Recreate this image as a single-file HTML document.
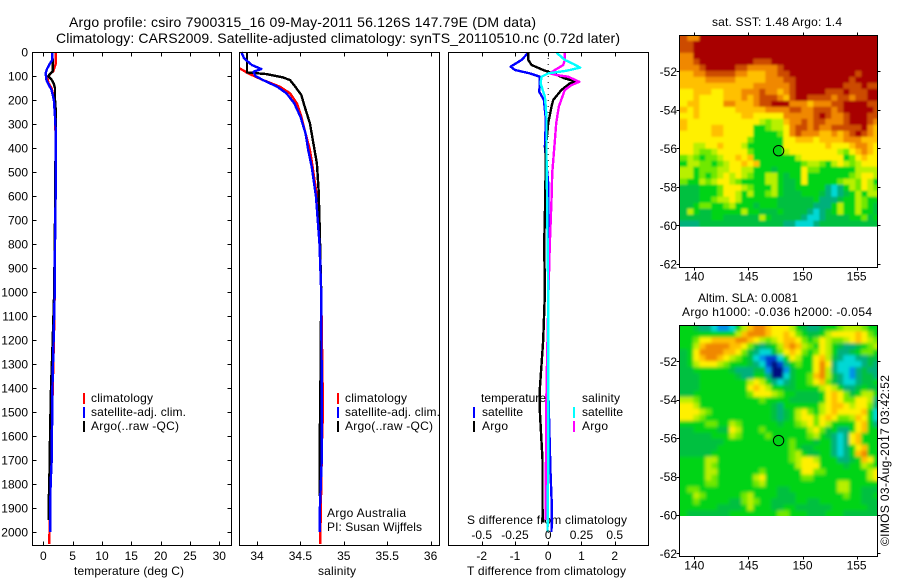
<!DOCTYPE html>
<html>
<head>
<meta charset="utf-8">
<title>Argo profile csiro 7900315_16</title>
<style>
html,body{margin:0;padding:0;background:#fff;}
svg{display:block;}
text{font-family:"Liberation Sans",sans-serif;font-size:12px;fill:#000;}
.t14{font-size:14px;}
</style>
</head>
<body>
<svg id="chart" width="900" height="580" viewBox="0 0 900 580" xmlns="http://www.w3.org/2000/svg">
<defs>
<filter id="soft-sst" x="-5%" y="-5%" width="110%" height="110%"><feGaussianBlur stdDeviation="1.1"/></filter>
<filter id="soft-sla" x="-5%" y="-5%" width="110%" height="110%"><feGaussianBlur stdDeviation="1.5"/></filter>
<clipPath id="clip-sst"><rect x="680" y="36" width="197.5" height="190.6"/></clipPath>
<clipPath id="clip-sla"><rect x="680" y="326" width="197.5" height="190"/></clipPath>
</defs>
<rect x="0" y="0" width="900" height="580" fill="#fff"/>
<text class="t14" x="69" y="27" textLength="467">Argo profile: csiro 7900315_16 09-May-2011 56.126S 147.79E (DM data)</text>
<text class="t14" x="56" y="43" textLength="564">Climatology: CARS2009. Satellite-adjusted climatology: synTS_20110510.nc (0.72d later)</text>

<text x="74" y="575" textLength="110">temperature (deg C)</text>
<text x="318" y="575" textLength="38">salinity</text>
<text x="467" y="575" textLength="159">T difference from climatology</text>
<text x="467" y="524" textLength="160">S difference from climatology</text>

<g>
<rect x="83" y="393" width="2" height="11" fill="#f00"/>
<text x="91" y="402" textLength="62">climatology</text>
<rect x="83" y="407" width="2" height="11" fill="#00f"/>
<text x="91" y="416" textLength="95">satellite-adj. clim.</text>
<rect x="83" y="421" width="2" height="11" fill="#000"/>
<text x="91" y="430" textLength="88">Argo(..raw -QC)</text>
</g>
<g>
<rect x="337" y="393" width="2" height="11" fill="#f00"/>
<text x="345" y="402" textLength="62">climatology</text>
<rect x="337" y="407" width="2" height="11" fill="#00f"/>
<text x="345" y="416" textLength="95">satellite-adj. clim.</text>
<rect x="337" y="421" width="2" height="11" fill="#000"/>
<text x="345" y="430" textLength="88">Argo(..raw -QC)</text>
</g>
<text x="327" y="517" textLength="79">Argo Australia</text>
<text x="327" y="531" textLength="95">PI: Susan Wijffels</text>

<g clip-path="url(#clip-sst)"><g id="layer-sst" filter="url(#soft-sst)"></g></g>
<g clip-path="url(#clip-sla)"><g id="layer-sla" filter="url(#soft-sla)"></g></g>
<g id="layer-lines"></g>
<g id="layer-axes"></g>

<g>
<text x="481" y="402" textLength="65">temperature</text>
<rect x="473" y="407" width="2" height="11" fill="#00f"/>
<text x="482" y="416" textLength="41">satellite</text>
<rect x="473" y="421" width="2" height="11" fill="#000"/>
<text x="482" y="430" textLength="26">Argo</text>
<text x="582" y="402" textLength="38">salinity</text>
<rect x="573" y="407" width="2" height="11" fill="#0ff"/>
<text x="582" y="416" textLength="41">satellite</text>
<rect x="573" y="421" width="2" height="11" fill="#f0f"/>
<text x="582" y="430" textLength="26">Argo</text>
</g>

<text x="712" y="26" textLength="130">sat. SST: 1.48 Argo: 1.4</text>
<text x="698" y="302" textLength="100">Altim. SLA: 0.0081</text>
<text x="682" y="316" textLength="190">Argo h1000: -0.036 h2000: -0.054</text>
<text transform="translate(889 546) rotate(-90)" x="0" y="0" textLength="171">©IMOS 03-Aug-2017 03:42:52</text>
</svg>

<script>
// ---- chart data ----
const depthTicks = [0,100,200,300,400,500,600,700,800,900,1000,1100,1200,1300,1400,1500,1600,1700,1800,1900,2000];
const tempTicks = [0,5,10,15,20,25,30];
const salTicks = [34,34.5,35,35.5,36];
const tDiffTicks = [-2,-1,0,1,2];
const sDiffTicks = [-0.5,-0.25,0,0.25,0.5];
const sDiffTickLabels = ['-0.5','-0.25','0','0.25','0.5'];
const lonTicks = [140,145,150,155];
const latTicks = [52,54,56,58,60,62];

const tempClimDepth = [0,50,80,90,110,130,150,170,200,250,400,600,800,1000,1200,1400,1600,1800,2000,2050];
const tempClimValue = [2.15,2.1,1.7,1.2,0.7,0.9,1.4,1.6,1.8,2.0,2.15,2.1,2.0,1.95,1.8,1.6,1.45,1.25,1.05,1.0];
const tempSatDepth = [0,35,47,70,89,117,135,158,200,270,340,600,800,1000,1200,1400,1500,1600,1700,1800,1900,2000];
const tempSatValue = [1.55,1.5,1.15,0.65,0.4,0.55,0.9,1.4,1.8,2.0,2.15,2.1,2.0,1.95,1.75,1.55,1.55,1.45,1.43,1.25,1.2,1.2];
const tempArgoDepth = [0,50,80,90,100,115,130,150,200,250,300,330,600,800,1000,1200,1400,1600,1700,1900,1950];
const tempArgoValue = [1.55,1.6,1.6,1.2,0.85,1.4,1.75,2.0,2.0,2.15,2.15,2.1,2.05,1.95,1.85,1.6,1.31,1.14,1.1,0.9,0.88];

const salClimDepth = [68,89,117,144,172,214,269,340,408,478,603,680,1000,1500,1600,2000,2050];
const salClimValue = [33.8,33.9,34.07,34.26,34.38,34.46,34.51,34.56,34.61,34.64,34.69,34.71,34.74,34.76,34.75,34.73,34.73];
const salSatDepth = [0,26,54,71,82,100,117,144,172,214,269,340,408,478,603,800,1000,1400,1700,1900,2000];
const salSatValue = [33.82,33.85,33.94,34.05,33.96,33.98,34.07,34.23,34.34,34.43,34.5,34.56,34.59,34.63,34.68,34.72,34.74,34.745,34.745,34.725,34.725];
const salArgoDepth = [0,85,92,106,117,144,179,228,297,381,464,575,700,1000,1400,1700,1850];
const salArgoValue = [33.885,33.885,34.11,34.3,34.38,34.44,34.51,34.55,34.61,34.65,34.69,34.71,34.72,34.74,34.73,34.72,34.72];

const dTSatDepth = [3,33,50,61,75,89,103,130,165,200,283,394,547,1000,1400,1550,1750,1900,2000];
const dTSatValue = [-0.6,-0.8,-1.0,-1.13,-1.0,-0.55,-0.25,-0.25,-0.27,-0.13,-0.07,-0.1,0,0,0,0.03,0.07,0.11,0.1];
const dTArgoDepth = [3,33,54,75,89,110,124,131,158,200,228,297,394,617,800,1000,1200,1400,1500,1700,1900,1960];
const dTArgoValue = [-0.6,-0.6,-0.5,-0.15,0.15,0.5,0.85,0.65,0.4,0.15,0.1,0,-0.07,-0.09,-0.12,-0.1,-0.15,-0.25,-0.25,-0.17,-0.17,-0.15];
const dSSatDepth = [3,33,50,65,78,89,103,130,186,269,436,617,1000,1400,1700,2000];
const dSSatValue = [0.063,0.125,0.19,0.24,0.14,0,-0.05,-0.058,-0.025,-0.0125,-0.0125,-0.008,0,0,0,-0.005];
const dSArgoDepth = [3,33,54,75,89,96,103,124,138,158,228,297,367,506,617,800,1000,1400,1800,1950];
const dSArgoValue = [0.125,0.125,0.113,0.05,0.0125,0.06,0.15,0.233,0.175,0.125,0.08,0.06,0.05,0.03,0.025,0.012,0.002,-0.0125,-0.018,-0.018];

const floatLon = 147.79;
const floatLat = 56.126;

// map values: each letter is a colour-scale level (a = highest ... n = lowest)
const sstRows = [
"bccaaaaaaaaaaaaaaaaaaaaaaaaaaaaaa",
"bbaaaaaaaaaaaaaaaaaaaaaaaaaaaaaaa",
"bbaaaaaaaaaaaaaaaaaaaaaaaaaaaaaaa",
"ccaaaaaaaaaaaaaaaaaaaaaaaaaaaaaaa",
"ccbaaaaaaaaabbbaaaaaaaaaaaaaaaaaa",
"cccbaaaaabbcccccbaaaaaaaaaaaaaaaa",
"ddccbbbbbccdddccbbaaaaaaaaaaabaaa",
"ddddcccccdddddcccbbaaaaaaaaabaaaa",
"ddddddddddddccccccbaaaaaaaabbbabb",
"eedddeedddcccbccdcbaaaaabbbabbbaa",
"eedeeeedddcdcbbbcdbaabbbbcbbcbbaa",
"eddeeeeccdddcbbaaacccdcccbbaaaabb",
"dedeeeeeedddddccccbbccbbbcbaaaaab",
"eedeeeeeeeddeeeeecccccbabccbaaabb",
"deeeeeeeeeeeefgffdccbcbbcccbaaabc",
"deeeeddeeeeehhgffecbbcbccbbbbbacd",
"eeeeeddeeeeehhhhgecbcccddcdcbabcd",
"eeeeeeeeeeeghhhhheedddeddddcccddd",
"eeffeedeeefhhhhhheeeeeeedeeedccde",
"eefggfeeeeeghhhhhfeeeeeeeefgedcde",
"gfghggfeededhhhhhhhfeeeeeeehgedee",
"hffgghgfeededhhhhhhhgffghfefgfeee",
"ffhgggffeeffhhhihhhhegghhhhhhffff",
"ffhghgfefefghhffhihhehhhhhhhgfeef",
"ghhfgfeefghhhhffhiihehhhhhgffgefh",
"iiihhhgeeefghhhfhiihhhhhjkjhfgefg",
"iiihhhgeefhfhhgfhiiihhhijkjihfhff",
"iiihhgffefhhhhhhiiiiiihjjjihhfghh",
"iihgghhgfhhhihhhiiiiiijjjhfhhfghi",
"ifhiihhhhhfhhiiihiiiijkjihfhhfhhi",
"iiiiihhiiiiiifhiiiiijkkjiiiihhgih",
"jjjiiiiiiiiiiiiiijjkkkjiiiiiiiiii"
];
const slaRows = [
"hhijjkllkhfdccdeeefhijjihhgfffghh",
"hhhhhhhhhfdcccdeedeghiihfeeeedegh",
"hhgeeddddccdefgfeddeghgefggfedefg",
"hhfdccccddegijihfdcdfghefhijjihgf",
"iheccccddegijkkigedeghgefhjjihggh",
"ihedccdefghiklmmkhefhhedfijkkjjii",
"ihfeeefghhhijkmnmjhghhecejkkkkjij",
"iihhhhhhijjjiilnnlihhhecfjkkljijj",
"iiihhhhhhijjhhjnnkihhgdcfijkljiij",
"iiihhhhhhhhfefhjkjihhgedgijkkjiih",
"iiihhhhhhhhedefhhiihhhhfefhjjihii",
"iihhhhhhhhhgeeefghhiiiihedegihffh",
"ffghhhhhhhhhhghhhhiiiiihedeggeefj",
"eefhhhhhhhhhhhhijhhhhhhfeddefeegj",
"eeefghhhhhhhhhhijihfeghfedeeeedhk",
"eefghhhhhhhhhhhijihfeegedeggfdehk",
"hhhhgghhfghhhhhhihhgfegefhhhhedhj",
"iihhhhiiefhhhghhhhhhhfegihjjhedhh",
"iiiiihhhfghhhhghhhhhhgfhijkjedhhh",
"iiiiiiihhhhhhhhhhhghhhihhjkjedhhh",
"iiiiiihhhhhhhhhhhhghiihhhjkjhedhh",
"iiiiihhhhhhhhhhhhhgfhiihhjkjhdchh",
"hhhhffhhhhhhhhhhhhgfeefhhhjjihdeh",
"hhhhfghhhhhhhhhhhhhfeeehhhhihhfgh",
"hhhhffhhhhhhhghhhhhheegghhhhhhhfe",
"hhhhfghhhhhhfehhhhhhgghhhhhhhhhfe",
"hhhhgghhhhhhgfhhhhhhhhhhhhffhhhhh",
"hgghhhhhhhhhhhhhiihhhhhhhhffhhiii",
"hhfghhhhhhgfhhhhiiihhhhhhhhghhiih",
"hhghhhhhiigfghhiiiihhiihhhhhhhiii",
"hhhhhhiiiihfhhhiihhiiiiiihhhhhhii",
"hiiiiiiihhhhhhhhgghhhiiihhhiiiiii"
];

// ---- colour scale ----
const palette = ['#a80000','#cc4c00','#f08800','#ffc000','#fff000','#b8f000','#70e800','#00d414','#00c040','#00b07c','#00d8d4','#0090e8','#0040d0','#001080'];

// ---- axis functions ----
const NS = 'http://www.w3.org/2000/svg';
function yDepth(d){ return 52 + 0.24*d; }
function xTemp(t){ return 43.3 + 5.867*t; }
function xSal(s){ return 257 + 86.8*(s-34); }
function xDT(t){ return 548.2 + 33.25*t; }
function xDS(s){ return 548.2 + 133*s; }
function xLon(lon){ return 694.3 + 10.82*(lon-140); }
function ySst(lat){ return 71.3 + 19.25*(lat-52); }
function ySla(lat){ return 361.3 + 19.2*(lat-52); }

const lineLayer = document.getElementById('layer-lines');
const axisLayer = document.getElementById('layer-axes');

function make(tag, parent, name, attrs){
  const el = document.createElementNS(NS, tag);
  
  
  for (const k in attrs) el.setAttribute(k, attrs[k]);
  parent.appendChild(el);
  return el;
}
function tick(name, x1, y1, x2, y2){
  make('line', axisLayer, name, {x1:x1, y1:y1, x2:x2, y2:y2, stroke:'#000', 'stroke-width':1, 'shape-rendering':'crispEdges'});
}
function label(name, x, y, str, anchor){
  const t = make('text', axisLayer, name, {x:x, y:y, 'text-anchor':anchor});
  t.textContent = str;
}
function frame(name, x, y, w, h){
  make('rect', axisLayer, name, {x:x, y:y, width:w, height:h, fill:'none', stroke:'#000', 'stroke-width':1, 'shape-rendering':'crispEdges'});
}
function profile(name, depths, values, xFn, color, width){
  const pts = depths.map((d,i) => xFn(values[i]).toFixed(1) + ',' + yDepth(d).toFixed(1)).join(' ');
  make('polyline', lineLayer, name, {points:pts, fill:'none', stroke:color, 'stroke-width':width||2.4, 'stroke-linejoin':'round', 'shape-rendering':'crispEdges'});
}

// ---- profile panels ----
const top0 = 52.5, bot0 = 545.5;
frame('temperature-panel-frame', 32.5, top0, 199, 493);
frame('salinity-panel-frame', 239.5, top0, 200, 493);
frame('difference-panel-frame', 448.5, top0, 200, 493);

depthTicks.forEach(d => {
  const y = Math.round(yDepth(d)) + 0.5;
  tick('depth-tick-left', 32.5, y, 36.5, y);
  tick('depth-tick-right', 227.5, y, 231.5, y);
  label('depth-tick-label', 28, yDepth(d) + 4.5, String(d), 'end');
});
tempTicks.forEach(t => {
  const x = Math.round(xTemp(t)) + 0.5;
  tick('temperature-tick-top', x, top0, x, top0 + 4);
  tick('temperature-tick-bottom', x, bot0 - 4, x, bot0);
  label('temperature-tick-label', xTemp(t), 560, String(t), 'middle');
});
salTicks.forEach(s => {
  const x = Math.round(xSal(s)) + 0.5;
  tick('salinity-tick-top', x, top0, x, top0 + 4);
  tick('salinity-tick-bottom', x, bot0 - 4, x, bot0);
  label('salinity-tick-label', xSal(s), 560, String(s), 'middle');
});
tDiffTicks.forEach(t => {
  const x = Math.round(xDT(t)) + 0.5;
  tick('t-difference-tick-top', x, top0, x, top0 + 4);
  tick('t-difference-tick-bottom', x, bot0 - 4, x, bot0);
  label('t-difference-tick-label', xDT(t), 560, String(t), 'middle');
});
sDiffTicks.forEach((s, i) => {
  label('s-difference-tick-label', xDS(s), 539, sDiffTickLabels[i], 'middle');
});

profile('temperature-climatology-line', tempClimDepth, tempClimValue, xTemp, '#f00');
profile('temperature-argo-line', tempArgoDepth, tempArgoValue, xTemp, '#000');
profile('temperature-satellite-line', tempSatDepth, tempSatValue, xTemp, '#00f');

profile('salinity-climatology-line', salClimDepth, salClimValue, xSal, '#f00');
profile('salinity-argo-line', salArgoDepth, salArgoValue, xSal, '#000');
profile('salinity-satellite-line', salSatDepth, salSatValue, xSal, '#00f');

make('line', lineLayer, 'difference-zero-line', {x1:xDT(0), y1:52, x2:xDT(0), y2:545, stroke:'#000', 'stroke-width':1, 'stroke-dasharray':'1 5'});
profile('t-difference-satellite-line', dTSatDepth, dTSatValue, xDT, '#00f');
profile('t-difference-argo-line', dTArgoDepth, dTArgoValue, xDT, '#000');
profile('s-difference-argo-line', dSArgoDepth, dSArgoValue, xDS, '#f0f');
profile('s-difference-satellite-line', dSSatDepth, dSSatValue, xDS, '#0ff');

// ---- maps ----
const lonStart = 138.8, lonStep = 6/10.82, lonEnd = 157.1;
function heatmap(layerId, rows, yFn, latStart, latEnd, cellName){
  const layer = document.getElementById(layerId);
  const latStep = (latEnd - latStart) / rows.length;
  rows.forEach((row, r) => {
    let y0 = yFn(latStart + r*latStep), y1 = yFn(latStart + (r+1)*latStep);
    if (r === 0) y0 -= 6;
    if (r === rows.length - 1) y1 += 6;
    for (let c = 0; lonStart + c*lonStep < lonEnd; c++){
      const lon0 = lonStart + c*lonStep;
      const level = row.charCodeAt(Math.min(c, row.length - 1)) - 97;
      const xa = xLon(lon0) - (c === 0 ? 6 : 0);
      const xb = xLon(lon0 + lonStep) + (lon0 + lonStep >= lonEnd ? 6 : 0);
      const cell = document.createElementNS(NS, 'rect');
      
      
      cell.setAttribute('x', xa.toFixed(2));
      cell.setAttribute('y', y0.toFixed(2));
      cell.setAttribute('width', (xb - xa + 0.4).toFixed(2));
      cell.setAttribute('height', (y1 - y0 + 0.4).toFixed(2));
      cell.setAttribute('fill', palette[level]);
      layer.appendChild(cell);
    }
  });
}
heatmap('layer-sst', sstRows, ySst, 50.11, 60.07, 'sst-cell');
heatmap('layer-sla', slaRows, ySla, 50.12, 60.08, 'sla-cell');

function mapAxes(prefix, yFn, top, bottom){
  const left = 679.5, right = 877.5;
  frame(prefix + '-map-frame', left, top, right - left, bottom - top);
  lonTicks.forEach(lon => {
    const x = Math.round(xLon(lon)) + 0.5;
    tick(prefix + '-lon-tick-top', x, top - 3, x, top);
    tick(prefix + '-lon-tick-bottom', x, bottom, x, bottom + 3);
    label(prefix + '-lon-tick-label', xLon(lon), bottom + 13, String(lon), 'middle');
  });
  latTicks.forEach(lat => {
    const y = Math.round(yFn(lat)) + 0.5;
    tick(prefix + '-lat-tick-left', left - 3, y, left, y);
    tick(prefix + '-lat-tick-right', right, y, right + 3, y);
    label(prefix + '-lat-tick-label', 677, yFn(lat) + 4.5, '-' + lat, 'end');
  });
  make('circle', axisLayer, prefix + '-float-marker', {cx:xLon(floatLon), cy:yFn(floatLat), r:5.2, fill:'none', stroke:'#000', 'stroke-width':1});
}
mapAxes('sst', ySst, 35.5, 267.5);
mapAxes('sla', ySla, 325.5, 556.5);
</script>
</body>
</html>
